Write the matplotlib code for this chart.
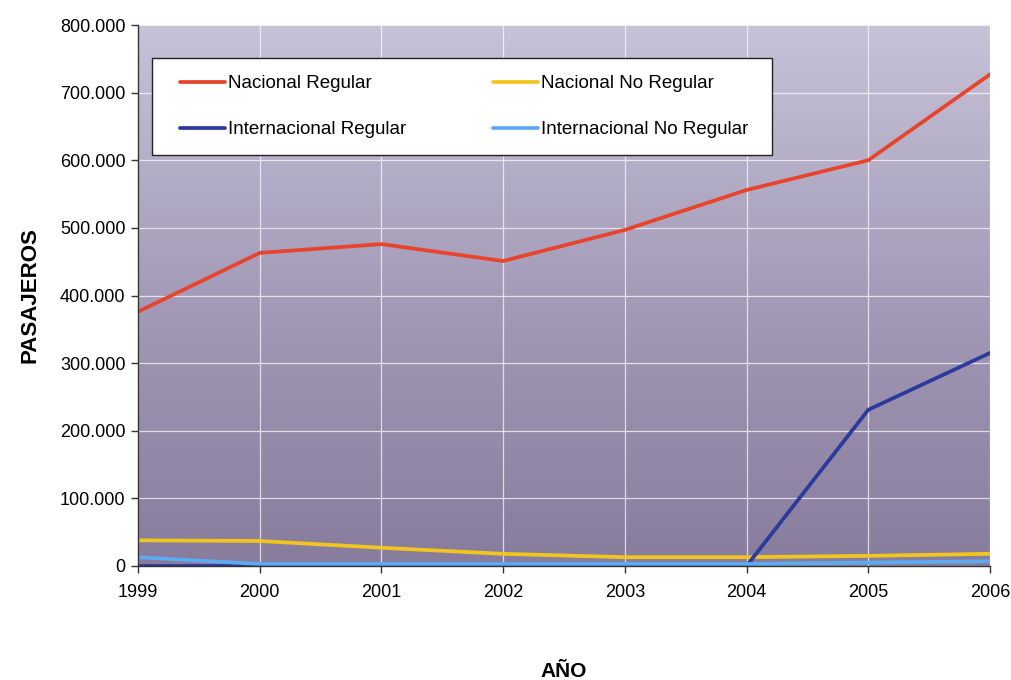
import numpy as np
import matplotlib
matplotlib.use("Agg")
import matplotlib.pyplot as plt
from matplotlib.ticker import FuncFormatter
from matplotlib.colors import LinearSegmentedColormap
from matplotlib.patches import Rectangle

plt.rcParams['font.family'] = ['Liberation Sans', 'DejaVu Sans']

years = [1999, 2000, 2001, 2002, 2003, 2004, 2005, 2006]
nacional_regular = [376000, 463000, 476000, 451000, 497000, 556000, 600000, 727000]
nacional_no_regular = [38000, 37000, 27000, 18000, 13000, 13000, 15000, 18000]
internacional_regular = [0, 0, 0, 0, 0, 0, 231000, 315000]
internacional_no_regular = [13000, 3000, 3000, 3000, 3000, 3000, 5000, 7000]

series = [
    ("Nacional Regular", nacional_regular, "#e8442c"),
    ("Nacional No Regular", nacional_no_regular, "#f2c51e"),
    ("Internacional Regular", internacional_regular, "#2b3a9c"),
    ("Internacional No Regular", internacional_no_regular, "#5caaf0"),
]

W, H = 1012, 680
fig = plt.figure(figsize=(W / 100, H / 100), dpi=100)
x0, x1, y0, y1 = 138, 990, 25, 566
pos = [x0 / W, 1 - y1 / H, (x1 - x0) / W, (y1 - y0) / H]


def ax_frac(px, py):
    """Pixel position (from top-left) to axes fraction."""
    return (px - x0) / (x1 - x0), (y1 - py) / (y1 - y0)


# gradient background behind the plotting area
bg = fig.add_axes(pos, zorder=0)
cmap = LinearSegmentedColormap.from_list(
    "bg", ["#887c9c", "#a49bb8", "#c6c2d8"])
grad = np.linspace(0, 1, 256).reshape(-1, 1)
bg.imshow(grad, aspect="auto", cmap=cmap, origin="lower", extent=[0, 1, 0, 1])
bg.set_axis_off()

ax = fig.add_axes(pos, zorder=1)
ax.patch.set_alpha(0)

for name, vals, col in series:
    ax.plot(years, vals, color=col, lw=2.7, label=name, solid_capstyle="round")

ax.set_xlim(1999, 2006)
ax.set_ylim(0, 800000)
ax.set_xticks(years)
ax.set_yticks(np.arange(0, 800001, 100000))
ax.yaxis.set_major_formatter(FuncFormatter(
    lambda v, p: "0" if v == 0 else f"{int(v):,}".replace(",", ".")))
ax.grid(True, color="white", lw=0.9, alpha=0.7)
ax.set_axisbelow(True)

for s in ("top", "right"):
    ax.spines[s].set_visible(False)
for s in ("left", "bottom"):
    ax.spines[s].set_color("#333333")
    ax.spines[s].set_linewidth(1.0)
ax.tick_params(axis="both", labelsize=13, color="#333333", length=5, width=1)
ax.tick_params(axis="x", pad=8)
ax.tick_params(axis="y", pad=4)

ax.set_xlabel("AÑO", fontsize=15, fontweight="bold", labelpad=44)
ax.set_ylabel("PASAJEROS", fontsize=16, fontweight="bold", labelpad=14)

# legend box
bx0, by1 = ax_frac(152, 155)
bx1, by0 = ax_frac(772, 58)
ax.add_patch(Rectangle((bx0, by1), bx1 - bx0, by0 - by1, transform=ax.transAxes,
                       facecolor="white", edgecolor="#222222", lw=1.0, zorder=5))

handles, labels = ax.get_legend_handles_labels()
order = [0, 2, 1, 3]
lx, ly = ax_frac(180, 75)
leg = ax.legend([handles[i] for i in order], [labels[i] for i in order],
                ncol=2, loc="upper left", bbox_to_anchor=(lx, ly),
                frameon=False, fontsize=13.5, handlelength=2.4,
                handletextpad=0.16, columnspacing=4.65, labelspacing=1.55,
                borderpad=0, borderaxespad=0)
leg.set_zorder(6)

fig.savefig("out.png", dpi=100)
